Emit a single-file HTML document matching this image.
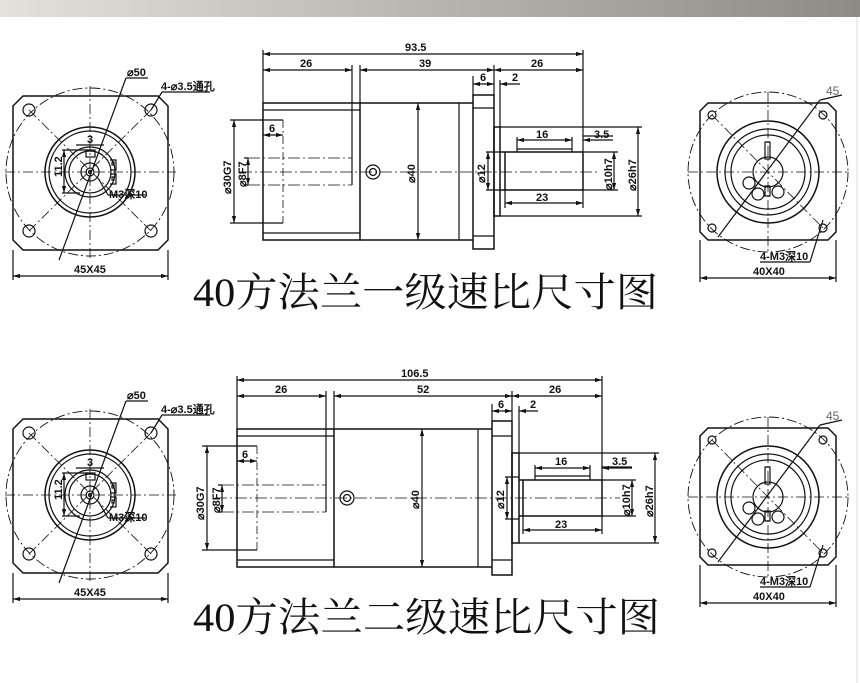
<!DOCTYPE html>
<html><head><meta charset="utf-8"><style>
html,body{margin:0;padding:0;background:#fff;}
svg{display:block;}
text{font-family:"Liberation Sans",sans-serif;font-weight:bold;fill:#111;}
.t{font-size:11px;}
.ttl{font-family:"Liberation Serif","Noto Serif CJK SC",serif;font-weight:normal;font-size:40px;fill:#111;}
</style></head><body>
<svg width="860" height="683" viewBox="0 0 860 683" xmlns="http://www.w3.org/2000/svg">
<defs>
<linearGradient id="bar" x1="0" x2="1" y1="0" y2="0">
<stop offset="0" stop-color="#e4e1dc"/><stop offset="0.5" stop-color="#b8b4ae"/><stop offset="1" stop-color="#8e8a85"/>
</linearGradient>
<marker id="a" viewBox="0 0 10 10" refX="10" refY="5" markerWidth="6" markerHeight="6" orient="auto-start-reverse"><path d="M0,2 L10,5 L0,8z" fill="#111"/></marker>

<g id="lv" stroke="#111" fill="none" stroke-width="1.2">
 <path d="M23,96 L158,96 L168,106 L168,240 L158,250 L23,250 L13,240 L13,106 Z" stroke-width="1.5"/>
 <circle cx="90" cy="172" r="84" stroke-dasharray="10,3,2,3" stroke-width="0.9"/>
 <line x1="5" y1="172" x2="176" y2="172" stroke-dasharray="10,3,2,3" stroke-width="0.8"/>
 <line x1="90" y1="86" x2="90" y2="258" stroke-dasharray="10,3,2,3" stroke-width="0.8"/>
 <line x1="29" y1="110" x2="151" y2="231" stroke-dasharray="10,3,2,3" stroke-width="0.8"/>
 <line x1="151" y1="110" x2="29" y2="231" stroke-dasharray="10,3,2,3" stroke-width="0.8"/>
 <circle cx="29" cy="110" r="6"/><circle cx="151" cy="110" r="6"/><circle cx="29" cy="231" r="6"/><circle cx="151" cy="231" r="6"/>
 <circle cx="90" cy="172" r="45" stroke-width="1.5"/>
 <circle cx="90" cy="172" r="41"/>
 <circle cx="90" cy="172" r="25"/>
 <circle cx="90" cy="172" r="21"/>
 <circle cx="90" cy="172" r="9"/>
 <circle cx="90" cy="172" r="4"/>
 <circle cx="90" cy="172" r="1.5"/>
 <rect x="86" y="150" width="9" height="7"/>
 <path d="M110,160 h6 v10 h-6 M110,174 h6 v10 h-6"/>
 <rect x="112" y="162" width="2" height="3"/><rect x="112" y="177" width="2" height="3"/>
 <line x1="64" y1="150" x2="64" y2="193" marker-start="url(#a)" marker-end="url(#a)"/>
 <line x1="62" y1="150" x2="88" y2="150"/><line x1="62" y1="193" x2="80" y2="193"/>
 <line x1="76" y1="145" x2="104" y2="145"/>
 <line x1="59" y1="260" x2="126" y2="78"/>
 <line x1="126" y1="78" x2="148" y2="78"/>
 <line x1="151" y1="110" x2="162" y2="92"/><line x1="162" y1="92" x2="210" y2="92"/>
 <line x1="98" y1="178" x2="108" y2="195"/><line x1="108" y1="195" x2="145" y2="195"/>
 <line x1="13" y1="250" x2="13" y2="280"/><line x1="168" y1="250" x2="168" y2="280"/>
 <line x1="13" y1="276" x2="168" y2="276" marker-start="url(#a)" marker-end="url(#a)"/>
</g>
<g id="lvt">
 <text class="t" x="127" y="76" font-size="9">⌀50</text>
 <text class="t" x="161" y="90" font-size="9" font-family="Liberation Sans,Noto Sans CJK SC,sans-serif">4-⌀3.5通孔</text>
 <text class="t" x="87" y="143">3</text>
 <text class="t" x="0" y="0" transform="translate(62,177) rotate(-90)">11.2</text>
 <text class="t" x="109" y="198" font-family="Liberation Sans,Noto Sans CJK SC,sans-serif">M3深10</text>
 <text class="t" x="74" y="273">45X45</text>
</g>

<g id="rv" stroke="#111" fill="none" stroke-width="1.2">
 <path d="M708,103 L828,103 L836,111 L836,232 L828,240 L708,240 L700,232 L700,111 Z" stroke-width="1.5"/>
 <circle cx="768" cy="172" r="80" stroke-dasharray="10,3,2,3" stroke-width="0.9"/>
 <line x1="688" y1="172" x2="848" y2="172" stroke-dasharray="10,3,2,3" stroke-width="0.8"/>
 <line x1="768" y1="92" x2="768" y2="252" stroke-dasharray="10,3,2,3" stroke-width="0.8"/>
 <circle cx="712" cy="115" r="4"/><circle cx="823" cy="115" r="4"/><circle cx="712" cy="228" r="4"/><circle cx="823" cy="228" r="4"/>
 <circle cx="768" cy="172" r="51" stroke-width="1.5"/>
 <circle cx="768" cy="172" r="43"/>
 <circle cx="768" cy="172" r="37"/>
 <circle cx="768" cy="172" r="15"/>
 <rect x="765" y="142" width="5" height="17"/><rect x="765" y="186" width="5" height="10"/>
 <circle cx="749" cy="183" r="6"/><circle cx="758" cy="194" r="6"/><circle cx="778" cy="192" r="6"/>
 <line x1="718" y1="237" x2="820" y2="100"/><line x1="820" y1="100" x2="842" y2="95"/>
 <line x1="712" y1="115" x2="823" y2="228" stroke-dasharray="10,3,2,3" stroke-width="0.8"/>
 <line x1="823" y1="220" x2="810" y2="262"/><line x1="760" y1="262" x2="810" y2="262"/>
 <line x1="700" y1="240" x2="700" y2="282"/><line x1="836" y1="240" x2="836" y2="282"/>
 <line x1="700" y1="278" x2="836" y2="278" marker-start="url(#a)" marker-end="url(#a)"/>
</g>
<g id="rvt">
 <text x="826" y="95" font-size="12" style="font-weight:normal;fill:#666">45</text>
 <text class="t" x="760" y="260" font-family="Liberation Sans,Noto Sans CJK SC,sans-serif">4-M3深10</text>
 <text class="t" x="753" y="275">40X40</text>
</g>
</defs>

<rect x="0" y="0" width="860" height="17" fill="url(#bar)"/>
<line x1="857" y1="17" x2="857" y2="683" stroke="#ddd"/>

<use href="#lv"/><use href="#lvt"/>
<use href="#rv"/><use href="#rvt"/>
<g stroke="#111" fill="none" stroke-width="1.2">
 <rect x="263" y="103" width="97" height="137" stroke-width="1.5"/>
 <line x1="263" y1="110" x2="360" y2="110"/><line x1="263" y1="233" x2="360" y2="233"/>
 <path d="M360,103 H473 M360,240 H473" stroke-width="1.5"/>
 <line x1="459" y1="103" x2="459" y2="240"/>
 <rect x="473" y="95" width="21" height="154" stroke-width="1.5"/>
 <line x1="473" y1="108" x2="494" y2="108"/><line x1="473" y1="236" x2="494" y2="236"/>
 <rect x="494" y="127" width="6" height="89" stroke-width="1.5"/>
 <path d="M500,152 H583 V190 H500 M505,152 V190" stroke-width="1.5"/>
 <path d="M517,152 V149 H572 V152"/>
 <line x1="240" y1="172" x2="600" y2="172" stroke-dasharray="12,3,2,3" stroke-width="0.8"/>
 <path d="M248,158 H352 M248,185 H352" stroke-dasharray="12,3,2,3" stroke-width="0.8"/>
 <line x1="352" y1="158" x2="352" y2="185"/>
 <line x1="283" y1="120" x2="283" y2="223" stroke-dasharray="8,3,2,3" stroke-width="0.8"/>
 <circle cx="373" cy="172" r="7"/><circle cx="373" cy="172" r="3.5"/>
 <path d="M263,103 V50 M583,152 V50 M352,158 V65 M360,103 V65 M473,95 V76 M494,95 V65 M500,127 V80"/>
 <line x1="263" y1="54" x2="583" y2="54" marker-start="url(#a)" marker-end="url(#a)"/>
 <line x1="263" y1="70" x2="352" y2="70" marker-start="url(#a)" marker-end="url(#a)"/>
 <line x1="360" y1="70" x2="494" y2="70" marker-start="url(#a)" marker-end="url(#a)"/>
 <line x1="494" y1="70" x2="583" y2="70" marker-start="url(#a)" marker-end="url(#a)"/>
 <line x1="473" y1="84" x2="494" y2="84" marker-start="url(#a)" marker-end="url(#a)"/>
 <line x1="500" y1="84" x2="520" y2="84" marker-start="url(#a)"/>
 <line x1="263" y1="135" x2="283" y2="135" marker-start="url(#a)" marker-end="url(#a)"/>
 <path d="M230,120 H283 M230,223 H283 M244,158 H248 M244,185 H248"/>
 <line x1="234" y1="120" x2="234" y2="223" marker-start="url(#a)" marker-end="url(#a)"/>
 <line x1="248" y1="158" x2="248" y2="185" marker-start="url(#a)" marker-end="url(#a)"/>
 <line x1="418" y1="103" x2="418" y2="240" marker-start="url(#a)" marker-end="url(#a)"/>
 <path d="M486,152 H500 M486,190 H500"/>
 <line x1="488" y1="152" x2="488" y2="190" marker-start="url(#a)" marker-end="url(#a)"/>
 <path d="M517,149 V137 M572,149 V137 M583,136 H613"/>
 <line x1="517" y1="140" x2="572" y2="140" marker-start="url(#a)" marker-end="url(#a)"/>
 <line x1="583" y1="140" x2="613" y2="140" marker-start="url(#a)"/>
 <path d="M505,190 V208 M583,190 V208"/>
 <line x1="505" y1="203" x2="583" y2="203" marker-start="url(#a)" marker-end="url(#a)"/>
 <path d="M583,152 H618 M583,190 H618 M500,127 H642 M500,216 H642"/>
 <line x1="614" y1="152" x2="614" y2="190" marker-start="url(#a)" marker-end="url(#a)"/>
 <line x1="638" y1="127" x2="638" y2="216" marker-start="url(#a)" marker-end="url(#a)"/>
</g>
<text class="t" x="405" y="51">93.5</text>
<text class="t" x="300" y="67">26</text>
<text class="t" x="419" y="67">39</text>
<text class="t" x="531" y="67">26</text>
<text class="t" x="480" y="81">6</text>
<text class="t" x="512" y="81">2</text>
<text class="t" x="269" y="132">6</text>
<text class="t" x="536" y="138">16</text>
<text class="t" x="594" y="138">3.5</text>
<text class="t" x="536" y="201">23</text>
<text class="t" transform="translate(231,194) rotate(-90)">⌀30G7</text>
<text class="t" transform="translate(246,187) rotate(-90)">⌀8F7</text>
<text class="t" transform="translate(415,183) rotate(-90)">⌀40</text>
<text class="t" transform="translate(485,183) rotate(-90)">⌀12</text>
<text class="t" transform="translate(612,190) rotate(-90)">⌀10h7</text>
<text class="t" transform="translate(636,191) rotate(-90)">⌀26h7</text>
<text class="ttl" x="193" y="306" textLength="465" lengthAdjust="spacingAndGlyphs">40方法兰一级速比尺寸图</text>

<g transform="translate(0,323)"><use href="#lv"/><use href="#lvt"/></g>
<g transform="translate(0,325)"><use href="#rv"/><use href="#rvt"/></g>
<g stroke="#111" fill="none" stroke-width="1.2">
 <rect x="237" y="429" width="97" height="138" stroke-width="1.5"/>
 <line x1="237" y1="436" x2="334" y2="436"/><line x1="237" y1="560" x2="334" y2="560"/>
 <path d="M334,429 H492 M334,567 H492" stroke-width="1.5"/>
 <line x1="478" y1="429" x2="478" y2="567"/>
 <rect x="492" y="421" width="20" height="154" stroke-width="1.5"/>
 <line x1="492" y1="436" x2="512" y2="436"/><line x1="492" y1="560" x2="512" y2="560"/>
 <rect x="512" y="453" width="7" height="90" stroke-width="1.5"/>
 <path d="M519,480 H602 V516 H519 M523,480 V516" stroke-width="1.5"/>
 <path d="M535,480 V476 H590 V480"/>
 <line x1="215" y1="498" x2="620" y2="498" stroke-dasharray="12,3,2,3" stroke-width="0.8"/>
 <path d="M222,485 H326 M222,512 H326" stroke-dasharray="12,3,2,3" stroke-width="0.8"/>
 <line x1="326" y1="485" x2="326" y2="512"/>
 <line x1="257" y1="446" x2="257" y2="550" stroke-dasharray="8,3,2,3" stroke-width="0.8"/>
 <circle cx="347" cy="498" r="7"/><circle cx="347" cy="498" r="3.5"/>
 <path d="M237,429 V376 M602,480 V376 M326,485 V391 M334,429 V391 M492,421 V404 M512,421 V391 M519,453 V406"/>
 <line x1="237" y1="380" x2="602" y2="380" marker-start="url(#a)" marker-end="url(#a)"/>
 <line x1="237" y1="396" x2="326" y2="396" marker-start="url(#a)" marker-end="url(#a)"/>
 <line x1="334" y1="396" x2="512" y2="396" marker-start="url(#a)" marker-end="url(#a)"/>
 <line x1="512" y1="396" x2="602" y2="396" marker-start="url(#a)" marker-end="url(#a)"/>
 <line x1="492" y1="411" x2="512" y2="411" marker-start="url(#a)" marker-end="url(#a)"/>
 <line x1="519" y1="411" x2="538" y2="411" marker-start="url(#a)"/>
 <line x1="237" y1="461" x2="257" y2="461" marker-start="url(#a)" marker-end="url(#a)"/>
 <path d="M202,446 H257 M202,550 H257 M218,485 H222 M218,512 H222"/>
 <line x1="207" y1="446" x2="207" y2="550" marker-start="url(#a)" marker-end="url(#a)"/>
 <line x1="222" y1="485" x2="222" y2="512" marker-start="url(#a)" marker-end="url(#a)"/>
 <line x1="422" y1="429" x2="422" y2="567" marker-start="url(#a)" marker-end="url(#a)"/>
 <path d="M505,477 H519 M505,519 H519"/>
 <line x1="507" y1="477" x2="507" y2="519" marker-start="url(#a)" marker-end="url(#a)"/>
 <path d="M535,476 V465 M590,476 V465 M602,467 H632"/>
 <line x1="535" y1="468" x2="590" y2="468" marker-start="url(#a)" marker-end="url(#a)"/>
 <line x1="602" y1="468" x2="632" y2="468" marker-start="url(#a)"/>
 <path d="M523,516 V534 M602,516 V534"/>
 <line x1="523" y1="530" x2="602" y2="530" marker-start="url(#a)" marker-end="url(#a)"/>
 <path d="M602,480 H636 M602,516 H636 M519,453 H659 M519,543 H659"/>
 <line x1="632" y1="480" x2="632" y2="516" marker-start="url(#a)" marker-end="url(#a)"/>
 <line x1="655" y1="453" x2="655" y2="543" marker-start="url(#a)" marker-end="url(#a)"/>
</g>
<text class="t" x="401" y="377">106.5</text>
<text class="t" x="275" y="393">26</text>
<text class="t" x="417" y="393">52</text>
<text class="t" x="549" y="393">26</text>
<text class="t" x="498" y="408">6</text>
<text class="t" x="530" y="408">2</text>
<text class="t" x="242" y="458">6</text>
<text class="t" x="555" y="465">16</text>
<text class="t" x="612" y="465">3.5</text>
<text class="t" x="555" y="528">23</text>
<text class="t" transform="translate(204,520) rotate(-90)">⌀30G7</text>
<text class="t" transform="translate(220,513) rotate(-90)">⌀8F7</text>
<text class="t" transform="translate(419,509) rotate(-90)">⌀40</text>
<text class="t" transform="translate(504,509) rotate(-90)">⌀12</text>
<text class="t" transform="translate(630,516) rotate(-90)">⌀10h7</text>
<text class="t" transform="translate(653,517) rotate(-90)">⌀26h7</text>
<text class="ttl" x="193" y="631" textLength="467" lengthAdjust="spacingAndGlyphs">40方法兰二级速比尺寸图</text>
</svg>
</body></html>
